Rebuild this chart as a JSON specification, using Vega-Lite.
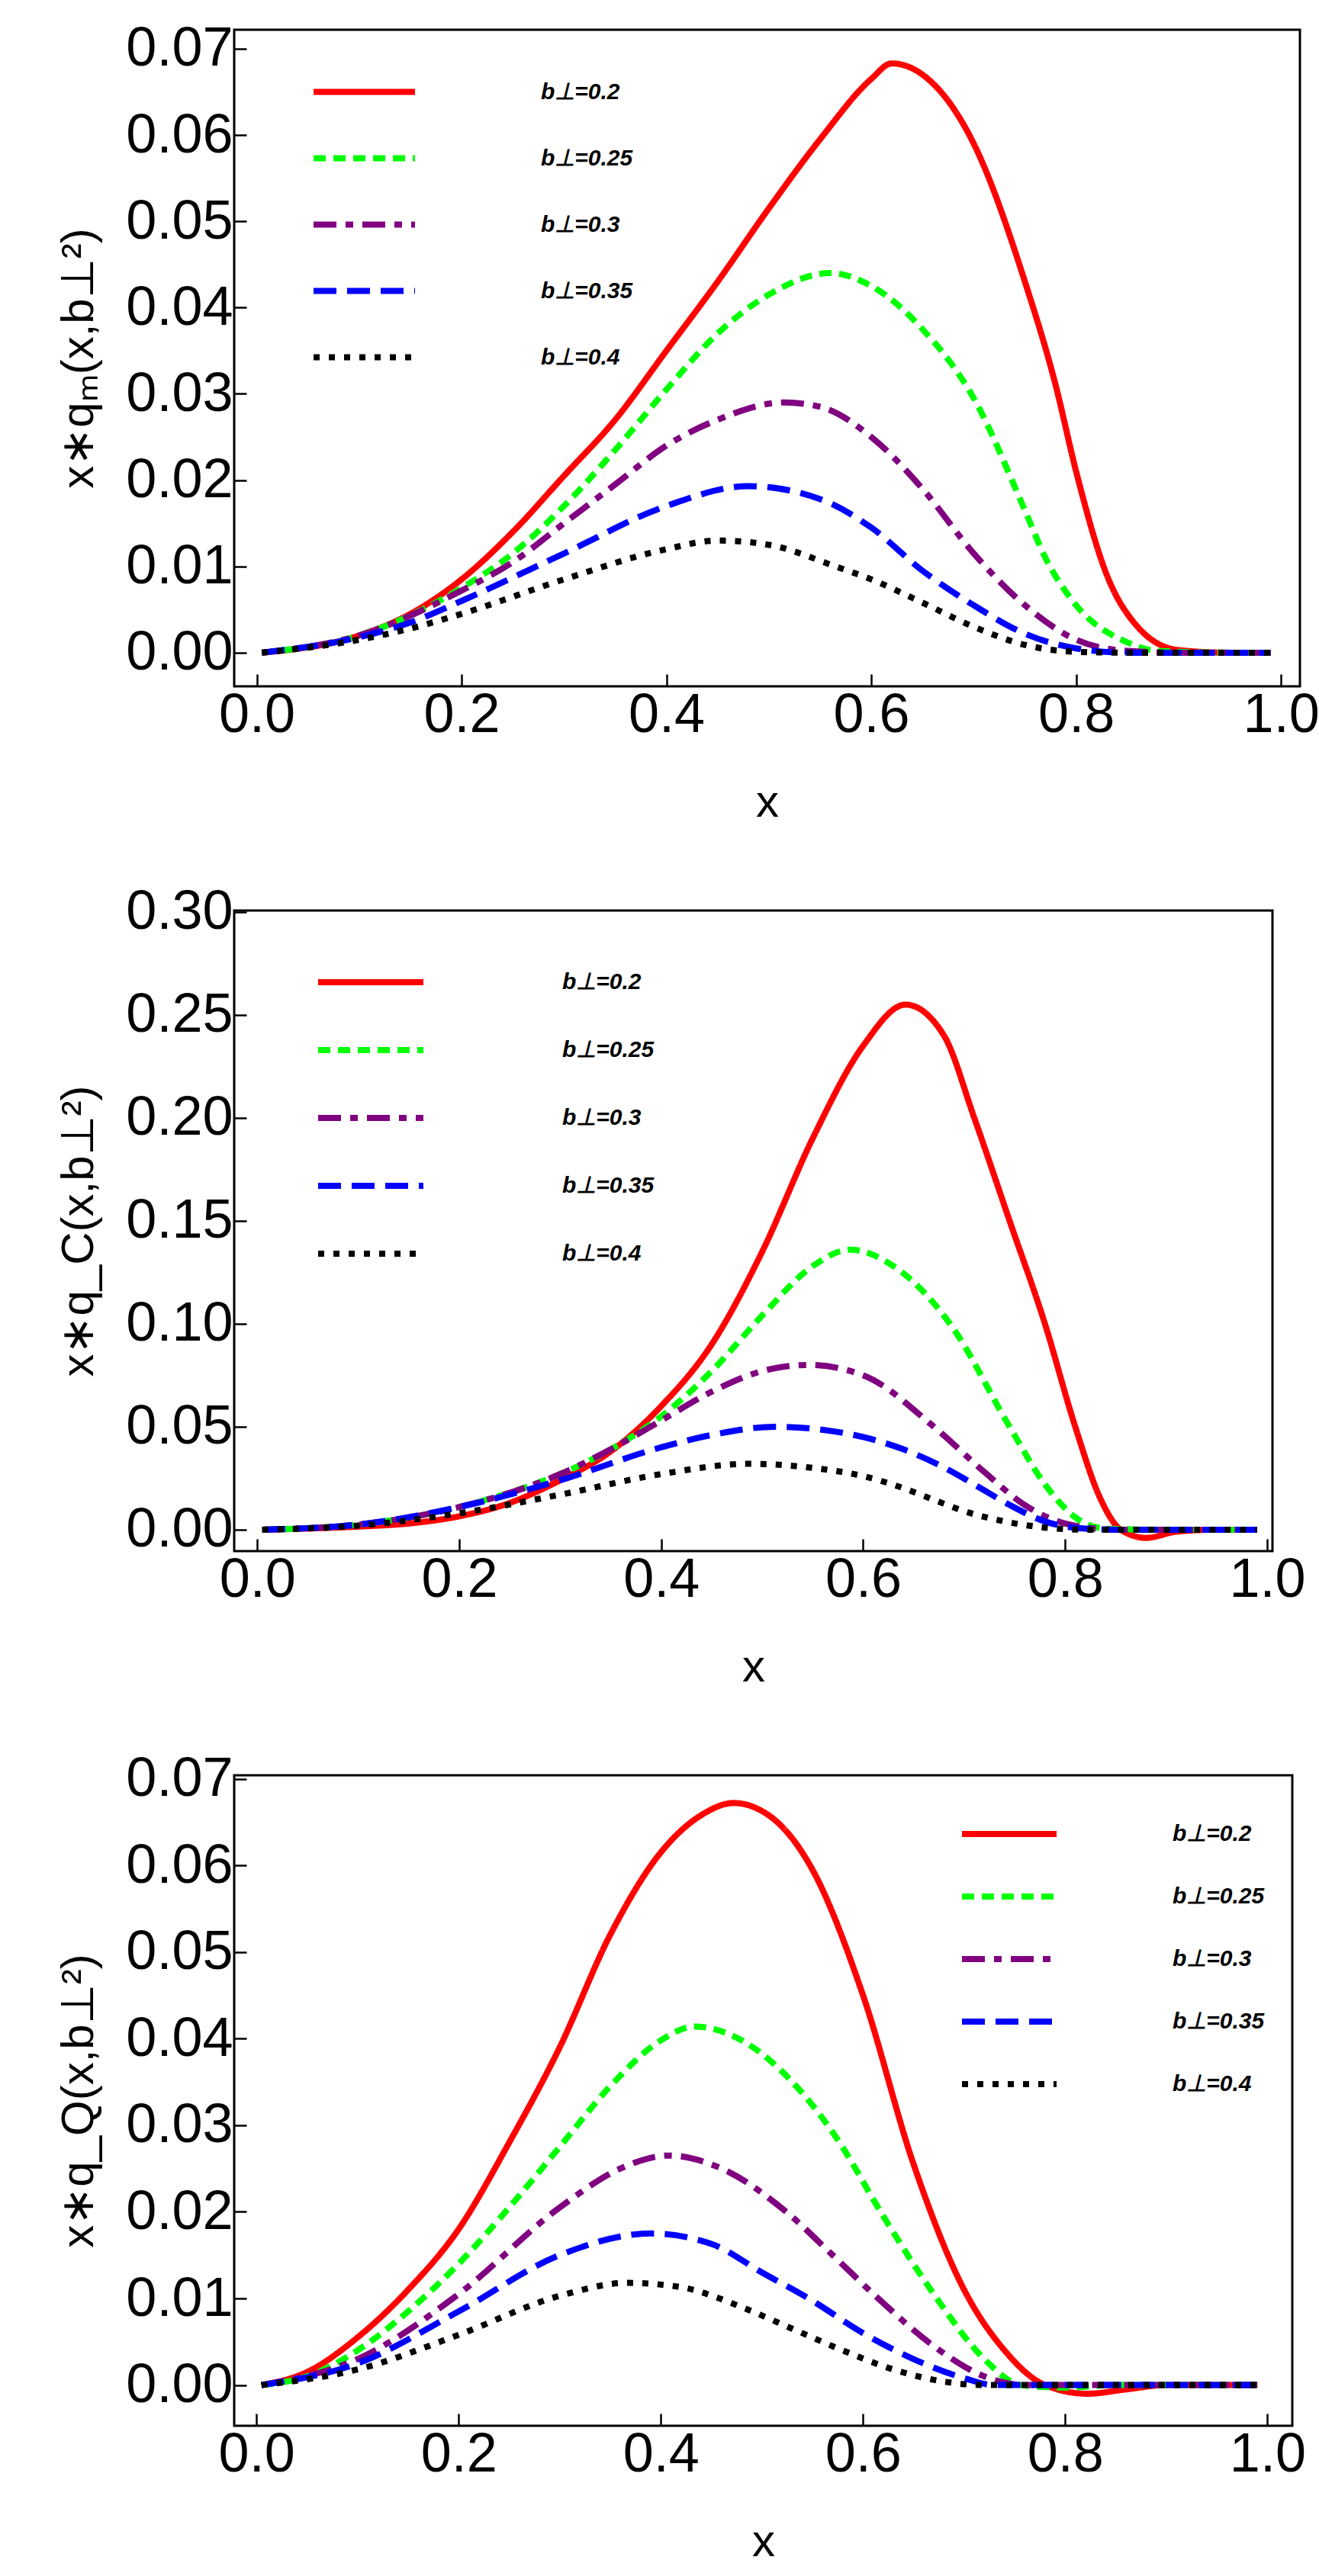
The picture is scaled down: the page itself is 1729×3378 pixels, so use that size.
{
"$schema":"https://vega.github.io/schema/vega-lite/v6.json",
"padding":{"left":72,"top":26,"right":0,"bottom":0},
"background":"white",
"config":{"view":{"stroke":"black","strokeWidth":3},"font":"Liberation Sans",
"axis":{"grid":false,"domain":false,"labelFont":"Liberation Sans","labelFontSize":72,"labelColor":"black","titleFont":"Liberation Sans","titleFontWeight":"normal","titleFontSize":60,"titleColor":"black","tickColor":"black","tickWidth":2.5,"tickSize":-16,"labelPadding":18},
"legend":{"symbolType":"stroke","padding":0,"labelFont":"Liberation Sans","labelFontSize":30,"labelFontWeight":"bold","labelFontStyle":"italic","labelColor":"black","symbolStrokeWidth":9,"orient":"none","title":null}},
"bounds":"flush",
"spacing":294,
"datasets":{"d":[
{"p":"M","b":"0.2","x":0.005,"y":0},{"p":"M","b":"0.2","x":0.1,"y":0.002},{"p":"M","b":"0.2","x":0.15,"y":0.0045},{"p":"M","b":"0.2","x":0.2,"y":0.0085},{"p":"M","b":"0.2","x":0.25,"y":0.014},{"p":"M","b":"0.2","x":0.3,"y":0.0205},{"p":"M","b":"0.2","x":0.35,"y":0.027},{"p":"M","b":"0.2","x":0.4,"y":0.035},{"p":"M","b":"0.2","x":0.45,"y":0.043},{"p":"M","b":"0.2","x":0.5,"y":0.0515},{"p":"M","b":"0.2","x":0.55,"y":0.0595},{"p":"M","b":"0.2","x":0.6,"y":0.0665},{"p":"M","b":"0.2","x":0.62,"y":0.0683},{"p":"M","b":"0.2","x":0.65,"y":0.067},{"p":"M","b":"0.2","x":0.7,"y":0.059},{"p":"M","b":"0.2","x":0.75,"y":0.043},{"p":"M","b":"0.2","x":0.78,"y":0.031},{"p":"M","b":"0.2","x":0.8,"y":0.021},{"p":"M","b":"0.2","x":0.83,"y":0.009},{"p":"M","b":"0.2","x":0.86,"y":0.003},{"p":"M","b":"0.2","x":0.9,"y":0.0003},{"p":"M","b":"0.2","x":0.95,"y":0},{"p":"M","b":"0.2","x":0.99,"y":0},
{"p":"M","b":"0.25","x":0.005,"y":0},{"p":"M","b":"0.25","x":0.1,"y":0.002},{"p":"M","b":"0.25","x":0.2,"y":0.0075},{"p":"M","b":"0.25","x":0.25,"y":0.0115},{"p":"M","b":"0.25","x":0.3,"y":0.017},{"p":"M","b":"0.25","x":0.35,"y":0.0235},{"p":"M","b":"0.25","x":0.4,"y":0.0305},{"p":"M","b":"0.25","x":0.45,"y":0.037},{"p":"M","b":"0.25","x":0.5,"y":0.0415},{"p":"M","b":"0.25","x":0.56,"y":0.044},{"p":"M","b":"0.25","x":0.6,"y":0.0425},{"p":"M","b":"0.25","x":0.65,"y":0.0375},{"p":"M","b":"0.25","x":0.7,"y":0.0295},{"p":"M","b":"0.25","x":0.75,"y":0.0165},{"p":"M","b":"0.25","x":0.77,"y":0.011},{"p":"M","b":"0.25","x":0.8,"y":0.0055},{"p":"M","b":"0.25","x":0.85,"y":0.0012},{"p":"M","b":"0.25","x":0.88,"y":0.0002},{"p":"M","b":"0.25","x":0.95,"y":0},{"p":"M","b":"0.25","x":0.99,"y":0},
{"p":"M","b":"0.3","x":0.005,"y":0},{"p":"M","b":"0.3","x":0.1,"y":0.002},{"p":"M","b":"0.3","x":0.2,"y":0.0072},{"p":"M","b":"0.3","x":0.25,"y":0.0105},{"p":"M","b":"0.3","x":0.3,"y":0.015},{"p":"M","b":"0.3","x":0.35,"y":0.0195},{"p":"M","b":"0.3","x":0.4,"y":0.024},{"p":"M","b":"0.3","x":0.45,"y":0.027},{"p":"M","b":"0.3","x":0.515,"y":0.029},{"p":"M","b":"0.3","x":0.55,"y":0.0285},{"p":"M","b":"0.3","x":0.6,"y":0.025},{"p":"M","b":"0.3","x":0.65,"y":0.019},{"p":"M","b":"0.3","x":0.7,"y":0.0115},{"p":"M","b":"0.3","x":0.75,"y":0.0055},{"p":"M","b":"0.3","x":0.8,"y":0.0015},{"p":"M","b":"0.3","x":0.85,"y":0.0002},{"p":"M","b":"0.3","x":0.9,"y":0},{"p":"M","b":"0.3","x":0.99,"y":0},
{"p":"M","b":"0.35","x":0.005,"y":0},{"p":"M","b":"0.35","x":0.1,"y":0.0018},{"p":"M","b":"0.35","x":0.15,"y":0.0035},{"p":"M","b":"0.35","x":0.2,"y":0.006},{"p":"M","b":"0.35","x":0.3,"y":0.0115},{"p":"M","b":"0.35","x":0.4,"y":0.017},{"p":"M","b":"0.35","x":0.48,"y":0.0193},{"p":"M","b":"0.35","x":0.55,"y":0.0178},{"p":"M","b":"0.35","x":0.6,"y":0.0145},{"p":"M","b":"0.35","x":0.65,"y":0.0095},{"p":"M","b":"0.35","x":0.7,"y":0.0055},{"p":"M","b":"0.35","x":0.75,"y":0.0022},{"p":"M","b":"0.35","x":0.8,"y":0.0005},{"p":"M","b":"0.35","x":0.85,"y":0},{"p":"M","b":"0.35","x":0.99,"y":0},
{"p":"M","b":"0.4","x":0.005,"y":0},{"p":"M","b":"0.4","x":0.1,"y":0.0015},{"p":"M","b":"0.4","x":0.15,"y":0.0028},{"p":"M","b":"0.4","x":0.2,"y":0.0045},{"p":"M","b":"0.4","x":0.3,"y":0.0085},{"p":"M","b":"0.4","x":0.4,"y":0.012},{"p":"M","b":"0.4","x":0.45,"y":0.013},{"p":"M","b":"0.4","x":0.5,"y":0.0125},{"p":"M","b":"0.4","x":0.565,"y":0.01},{"p":"M","b":"0.4","x":0.6,"y":0.0085},{"p":"M","b":"0.4","x":0.65,"y":0.0058},{"p":"M","b":"0.4","x":0.7,"y":0.003},{"p":"M","b":"0.4","x":0.75,"y":0.0009},{"p":"M","b":"0.4","x":0.8,"y":0.0001},{"p":"M","b":"0.4","x":0.85,"y":0},{"p":"M","b":"0.4","x":0.99,"y":0},
{"p":"C","b":"0.2","x":0.005,"y":0},{"p":"C","b":"0.2","x":0.1,"y":0.0015},{"p":"C","b":"0.2","x":0.15,"y":0.003},{"p":"C","b":"0.2","x":0.2,"y":0.0065},{"p":"C","b":"0.2","x":0.25,"y":0.013},{"p":"C","b":"0.2","x":0.3,"y":0.024},{"p":"C","b":"0.2","x":0.35,"y":0.038},{"p":"C","b":"0.2","x":0.4,"y":0.06},{"p":"C","b":"0.2","x":0.45,"y":0.09},{"p":"C","b":"0.2","x":0.5,"y":0.135},{"p":"C","b":"0.2","x":0.55,"y":0.19},{"p":"C","b":"0.2","x":0.6,"y":0.235},{"p":"C","b":"0.2","x":0.642,"y":0.255},{"p":"C","b":"0.2","x":0.68,"y":0.24},{"p":"C","b":"0.2","x":0.71,"y":0.2},{"p":"C","b":"0.2","x":0.745,"y":0.15},{"p":"C","b":"0.2","x":0.78,"y":0.1},{"p":"C","b":"0.2","x":0.81,"y":0.05},{"p":"C","b":"0.2","x":0.835,"y":0.015},{"p":"C","b":"0.2","x":0.855,"y":0},{"p":"C","b":"0.2","x":0.88,"y":-0.004},{"p":"C","b":"0.2","x":0.91,"y":-0.001},{"p":"C","b":"0.2","x":0.95,"y":0},{"p":"C","b":"0.2","x":0.99,"y":0},
{"p":"C","b":"0.25","x":0.005,"y":0},{"p":"C","b":"0.25","x":0.1,"y":0.0025},{"p":"C","b":"0.25","x":0.2,"y":0.011},{"p":"C","b":"0.25","x":0.25,"y":0.018},{"p":"C","b":"0.25","x":0.3,"y":0.027},{"p":"C","b":"0.25","x":0.35,"y":0.039},{"p":"C","b":"0.25","x":0.4,"y":0.055},{"p":"C","b":"0.25","x":0.45,"y":0.077},{"p":"C","b":"0.25","x":0.5,"y":0.104},{"p":"C","b":"0.25","x":0.55,"y":0.128},{"p":"C","b":"0.25","x":0.587,"y":0.136},{"p":"C","b":"0.25","x":0.63,"y":0.128},{"p":"C","b":"0.25","x":0.686,"y":0.1},{"p":"C","b":"0.25","x":0.745,"y":0.05},{"p":"C","b":"0.25","x":0.78,"y":0.022},{"p":"C","b":"0.25","x":0.81,"y":0.006},{"p":"C","b":"0.25","x":0.84,"y":0.0005},{"p":"C","b":"0.25","x":0.9,"y":0},{"p":"C","b":"0.25","x":0.99,"y":0},
{"p":"C","b":"0.3","x":0.005,"y":0},{"p":"C","b":"0.3","x":0.1,"y":0.0025},{"p":"C","b":"0.3","x":0.2,"y":0.011},{"p":"C","b":"0.3","x":0.3,"y":0.027},{"p":"C","b":"0.3","x":0.35,"y":0.039},{"p":"C","b":"0.3","x":0.4,"y":0.053},{"p":"C","b":"0.3","x":0.45,"y":0.067},{"p":"C","b":"0.3","x":0.5,"y":0.077},{"p":"C","b":"0.3","x":0.546,"y":0.08},{"p":"C","b":"0.3","x":0.6,"y":0.075},{"p":"C","b":"0.3","x":0.67,"y":0.05},{"p":"C","b":"0.3","x":0.72,"y":0.028},{"p":"C","b":"0.3","x":0.76,"y":0.012},{"p":"C","b":"0.3","x":0.8,"y":0.003},{"p":"C","b":"0.3","x":0.85,"y":0},{"p":"C","b":"0.3","x":0.99,"y":0},
{"p":"C","b":"0.35","x":0.005,"y":0},{"p":"C","b":"0.35","x":0.1,"y":0.0025},{"p":"C","b":"0.35","x":0.2,"y":0.011},{"p":"C","b":"0.35","x":0.3,"y":0.024},{"p":"C","b":"0.35","x":0.4,"y":0.04},{"p":"C","b":"0.35","x":0.45,"y":0.046},{"p":"C","b":"0.35","x":0.513,"y":0.05},{"p":"C","b":"0.35","x":0.56,"y":0.0485},{"p":"C","b":"0.35","x":0.6,"y":0.045},{"p":"C","b":"0.35","x":0.64,"y":0.039},{"p":"C","b":"0.35","x":0.677,"y":0.031},{"p":"C","b":"0.35","x":0.71,"y":0.022},{"p":"C","b":"0.35","x":0.745,"y":0.012},{"p":"C","b":"0.35","x":0.78,"y":0.004},{"p":"C","b":"0.35","x":0.82,"y":0.0005},{"p":"C","b":"0.35","x":0.85,"y":0},{"p":"C","b":"0.35","x":0.99,"y":0},
{"p":"C","b":"0.4","x":0.005,"y":0},{"p":"C","b":"0.4","x":0.1,"y":0.002},{"p":"C","b":"0.4","x":0.2,"y":0.008},{"p":"C","b":"0.4","x":0.3,"y":0.017},{"p":"C","b":"0.4","x":0.4,"y":0.027},{"p":"C","b":"0.4","x":0.487,"y":0.032},{"p":"C","b":"0.4","x":0.55,"y":0.03},{"p":"C","b":"0.4","x":0.6,"y":0.026},{"p":"C","b":"0.4","x":0.635,"y":0.021},{"p":"C","b":"0.4","x":0.67,"y":0.0145},{"p":"C","b":"0.4","x":0.7,"y":0.009},{"p":"C","b":"0.4","x":0.74,"y":0.004},{"p":"C","b":"0.4","x":0.78,"y":0.001},{"p":"C","b":"0.4","x":0.82,"y":0},{"p":"C","b":"0.4","x":0.99,"y":0},
{"p":"Q","b":"0.2","x":0.005,"y":0},{"p":"Q","b":"0.2","x":0.05,"y":0.0015},{"p":"Q","b":"0.2","x":0.1,"y":0.0055},{"p":"Q","b":"0.2","x":0.15,"y":0.011},{"p":"Q","b":"0.2","x":0.2,"y":0.018},{"p":"Q","b":"0.2","x":0.25,"y":0.028},{"p":"Q","b":"0.2","x":0.3,"y":0.039},{"p":"Q","b":"0.2","x":0.35,"y":0.052},{"p":"Q","b":"0.2","x":0.4,"y":0.0615},{"p":"Q","b":"0.2","x":0.44,"y":0.0658},{"p":"Q","b":"0.2","x":0.472,"y":0.0672},{"p":"Q","b":"0.2","x":0.51,"y":0.0655},{"p":"Q","b":"0.2","x":0.55,"y":0.0595},{"p":"Q","b":"0.2","x":0.6,"y":0.045},{"p":"Q","b":"0.2","x":0.65,"y":0.0255},{"p":"Q","b":"0.2","x":0.7,"y":0.011},{"p":"Q","b":"0.2","x":0.74,"y":0.004},{"p":"Q","b":"0.2","x":0.78,"y":0},{"p":"Q","b":"0.2","x":0.822,"y":-0.001},{"p":"Q","b":"0.2","x":0.86,"y":-0.0005},{"p":"Q","b":"0.2","x":0.9,"y":0},{"p":"Q","b":"0.2","x":0.99,"y":0},
{"p":"Q","b":"0.25","x":0.005,"y":0},{"p":"Q","b":"0.25","x":0.05,"y":0.001},{"p":"Q","b":"0.25","x":0.1,"y":0.004},{"p":"Q","b":"0.25","x":0.15,"y":0.0085},{"p":"Q","b":"0.25","x":0.2,"y":0.014},{"p":"Q","b":"0.25","x":0.25,"y":0.0205},{"p":"Q","b":"0.25","x":0.3,"y":0.0275},{"p":"Q","b":"0.25","x":0.35,"y":0.0345},{"p":"Q","b":"0.25","x":0.4,"y":0.0398},{"p":"Q","b":"0.25","x":0.433,"y":0.0414},{"p":"Q","b":"0.25","x":0.48,"y":0.0398},{"p":"Q","b":"0.25","x":0.53,"y":0.035},{"p":"Q","b":"0.25","x":0.574,"y":0.0285},{"p":"Q","b":"0.25","x":0.62,"y":0.0195},{"p":"Q","b":"0.25","x":0.673,"y":0.01},{"p":"Q","b":"0.25","x":0.72,"y":0.003},{"p":"Q","b":"0.25","x":0.756,"y":0},{"p":"Q","b":"0.25","x":0.8,"y":-0.0003},{"p":"Q","b":"0.25","x":0.85,"y":0},{"p":"Q","b":"0.25","x":0.99,"y":0},
{"p":"Q","b":"0.3","x":0.005,"y":0},{"p":"Q","b":"0.3","x":0.1,"y":0.003},{"p":"Q","b":"0.3","x":0.2,"y":0.0105},{"p":"Q","b":"0.3","x":0.3,"y":0.0205},{"p":"Q","b":"0.3","x":0.36,"y":0.025},{"p":"Q","b":"0.3","x":0.408,"y":0.0265},{"p":"Q","b":"0.3","x":0.46,"y":0.025},{"p":"Q","b":"0.3","x":0.524,"y":0.02},{"p":"Q","b":"0.3","x":0.57,"y":0.015},{"p":"Q","b":"0.3","x":0.615,"y":0.01},{"p":"Q","b":"0.3","x":0.67,"y":0.0045},{"p":"Q","b":"0.3","x":0.72,"y":0.001},{"p":"Q","b":"0.3","x":0.76,"y":0},{"p":"Q","b":"0.3","x":0.99,"y":0},
{"p":"Q","b":"0.35","x":0.005,"y":0},{"p":"Q","b":"0.35","x":0.1,"y":0.0025},{"p":"Q","b":"0.35","x":0.2,"y":0.0085},{"p":"Q","b":"0.35","x":0.3,"y":0.015},{"p":"Q","b":"0.35","x":0.39,"y":0.0175},{"p":"Q","b":"0.35","x":0.45,"y":0.0163},{"p":"Q","b":"0.35","x":0.5,"y":0.013},{"p":"Q","b":"0.35","x":0.549,"y":0.0098},{"p":"Q","b":"0.35","x":0.6,"y":0.006},{"p":"Q","b":"0.35","x":0.65,"y":0.003},{"p":"Q","b":"0.35","x":0.7,"y":0.0008},{"p":"Q","b":"0.35","x":0.73,"y":0},{"p":"Q","b":"0.35","x":0.99,"y":0},
{"p":"Q","b":"0.4","x":0.005,"y":0},{"p":"Q","b":"0.4","x":0.1,"y":0.0018},{"p":"Q","b":"0.4","x":0.2,"y":0.0058},{"p":"Q","b":"0.4","x":0.3,"y":0.0103},{"p":"Q","b":"0.4","x":0.367,"y":0.0118},{"p":"Q","b":"0.4","x":0.42,"y":0.0113},{"p":"Q","b":"0.4","x":0.48,"y":0.009},{"p":"Q","b":"0.4","x":0.53,"y":0.0065},{"p":"Q","b":"0.4","x":0.58,"y":0.004},{"p":"Q","b":"0.4","x":0.63,"y":0.0018},{"p":"Q","b":"0.4","x":0.68,"y":0.0004},{"p":"Q","b":"0.4","x":0.72,"y":0},{"p":"Q","b":"0.4","x":0.99,"y":0}
]},
"resolve":{"scale":{"color":"independent","strokeDash":"independent","strokeWidth":"independent"},"legend":{"color":"independent","strokeDash":"independent"}},
"vconcat":[
{"width":1397,"height":861,"data":{"name":"d"},"transform":[{"filter":"datum.p==='M'"}],
"mark":{"type":"line","interpolate":"monotone","clip":true},
"encoding":{
"x":{"field":"x","type":"quantitative","scale":{"domain":[-0.022,1.0185],"nice":false,"zero":false},"axis":{"values":[0,0.2,0.4,0.6,0.8,1],"format":".1f","title":"x","titlePadding":50}},
"y":{"field":"y","type":"quantitative","scale":{"domain":[-0.0039,0.0722],"nice":false,"zero":false},"axis":{"values":[0,0.01,0.02,0.03,0.04,0.05,0.06,0.07],"format":".2f","title":"x∗qₘ(x,b⊥²)","titlePadding":30}},
"detail":{"field":"b"},
"color":{"field":"b","type":"nominal","scale":{"domain":["0.2","0.25","0.3","0.35","0.4"],"range":["#ff0000","#00ff00","#800080","#0000ff","#000000"]},"legend":{"legendX":100,"legendY":11,"symbolSize":17689,"rowPadding":-46,"labelOffset":161,"labelExpr":"'b⊥=' + datum.label"}},
"strokeDash":{"field":"b","type":"nominal","scale":{"domain":["0.2","0.25","0.3","0.35","0.4"],"range":[[1,0],[16,10],[30,12,10,12],[30,14],[8,12]]},"legend":{"legendX":100,"legendY":11,"symbolSize":17689,"rowPadding":-46,"labelOffset":161,"labelExpr":"'b⊥=' + datum.label"}},
"strokeWidth":{"field":"b","type":"nominal","scale":{"domain":["0.2","0.25","0.3","0.35","0.4"],"range":[8,8,8,8,6]},"legend":null}}},
{"width":1361,"height":840,"data":{"name":"d"},"transform":[{"filter":"datum.p==='C'"}],
"mark":{"type":"line","interpolate":"monotone","clip":true},
"encoding":{
"x":{"field":"x","type":"quantitative","scale":{"domain":[-0.0228,1.0053],"nice":false,"zero":false},"axis":{"values":[0,0.2,0.4,0.6,0.8,1],"format":".1f","title":"x","titlePadding":50}},
"y":{"field":"y","type":"quantitative","scale":{"domain":[-0.0104,0.3007],"nice":false,"zero":false},"axis":{"values":[0,0.05,0.1,0.15,0.2,0.25,0.3],"format":".2f","title":"x∗q_C(x,b⊥²)","titlePadding":30}},
"detail":{"field":"b"},
"color":{"field":"b","type":"nominal","scale":{"domain":["0.2","0.25","0.3","0.35","0.4"],"range":["#ff0000","#00ff00","#800080","#0000ff","#000000"]},"legend":{"legendX":106,"legendY":21,"symbolSize":19044,"rowPadding":-60,"labelOffset":178,"labelExpr":"'b⊥=' + datum.label"}},
"strokeDash":{"field":"b","type":"nominal","scale":{"domain":["0.2","0.25","0.3","0.35","0.4"],"range":[[1,0],[16,10],[30,12,10,12],[30,14],[8,12]]},"legend":{"legendX":106,"legendY":21,"symbolSize":19044,"rowPadding":-60,"labelOffset":178,"labelExpr":"'b⊥=' + datum.label"}},
"strokeWidth":{"field":"b","type":"nominal","scale":{"domain":["0.2","0.25","0.3","0.35","0.4"],"range":[8,8,8,8,6]},"legend":null}}},
{"width":1387,"height":853,"data":{"name":"d"},"transform":[{"filter":"datum.p==='Q'"}],
"mark":{"type":"line","interpolate":"monotone","clip":true},
"encoding":{
"x":{"field":"x","type":"quantitative","scale":{"domain":[-0.022,1.0246],"nice":false,"zero":false},"axis":{"values":[0,0.2,0.4,0.6,0.8,1],"format":".1f","title":"x","titlePadding":50}},
"y":{"field":"y","type":"quantitative","scale":{"domain":[-0.0047,0.0704],"nice":false,"zero":false},"axis":{"values":[0,0.01,0.02,0.03,0.04,0.05,0.06,0.07],"format":".2f","title":"x∗q_Q(x,b⊥²)","titlePadding":30}},
"detail":{"field":"b"},
"color":{"field":"b","type":"nominal","scale":{"domain":["0.2","0.25","0.3","0.35","0.4"],"range":["#ff0000","#00ff00","#800080","#0000ff","#000000"]},"legend":{"legendX":950,"legendY":11,"symbolSize":15376,"rowPadding":-48,"labelOffset":148,"labelExpr":"'b⊥=' + datum.label"}},
"strokeDash":{"field":"b","type":"nominal","scale":{"domain":["0.2","0.25","0.3","0.35","0.4"],"range":[[1,0],[16,10],[30,12,10,12],[30,14],[8,12]]},"legend":{"legendX":950,"legendY":11,"symbolSize":15376,"rowPadding":-48,"labelOffset":148,"labelExpr":"'b⊥=' + datum.label"}},
"strokeWidth":{"field":"b","type":"nominal","scale":{"domain":["0.2","0.25","0.3","0.35","0.4"],"range":[8,8,8,8,6]},"legend":null}}}
]
}
